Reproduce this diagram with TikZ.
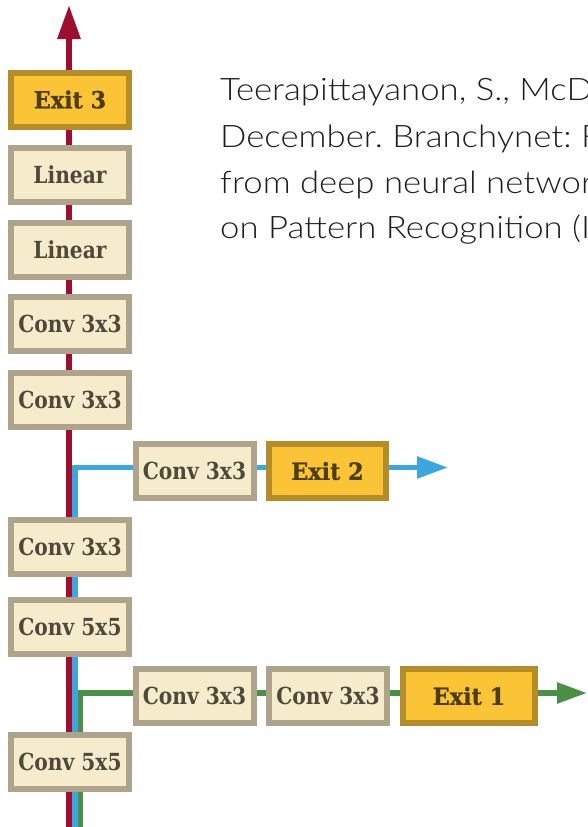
\documentclass[tikz,border=0pt]{standalone}
\usepackage{fontspec}
\usetikzlibrary{arrows.meta,backgrounds}

\newfontfamily\boxfont{DejaVu Serif}[UprightFont=* Bold, FakeStretch=0.86]
\newfontfamily\exitfont{DejaVu Serif}[UprightFont=* Bold, FakeStretch=0.95, FakeBold=1]
\newfontfamily\citefont{Lato}[UprightFont=* Light, FakeStretch=1.12]

\definecolor{trunkred}{HTML}{9C0F2E}
\definecolor{branchblue}{HTML}{3BA7DE}
\definecolor{branchgreen}{HTML}{4A8F45}
\definecolor{layerfill}{HTML}{F6EBCB}
\definecolor{layerline}{HTML}{ADA48B}
\definecolor{layertext}{HTML}{4D4A3C}
\definecolor{exitfill}{HTML}{FBC436}
\definecolor{exitline}{HTML}{B58C2A}
\definecolor{exittext}{HTML}{4E3D10}
\definecolor{citegray}{HTML}{1E1E1E}

\tikzset{
  layer/.style={draw=layerline, fill=layerfill, line width=6pt,
    minimum width=118pt, minimum height=54pt, inner sep=0pt,
    font=\boxfont\fontsize{23.5}{23.5}\selectfont, text=layertext},
  exitbox/.style={layer, draw=exitline, fill=exitfill, text=exittext,
    font=\exitfont\fontsize{23.5}{23.5}\selectfont},
  trunk/.style={draw=trunkred, line width=6pt},
  bluepath/.style={draw=branchblue, line width=5.5pt},
  greenpath/.style={draw=branchgreen, line width=5.5pt},
  citeline/.style={anchor=base west, inner sep=0pt, text=citegray,
    font=\citefont\fontsize{31}{31}\selectfont},
}

\begin{document}
\frenchspacing
\begin{tikzpicture}[x=1pt, y=-1pt]
\useasboundingbox (0,0) rectangle (588,827);
\clip (0,0) rectangle (588,827);

% main trunk
\node[exitbox] (exit3) at (70,99.5) {Exit 3};
\node[layer] (lin1) at (70,175) {Linear};
\node[layer] (lin2) at (70,249.5) {Linear};
\node[layer] (conv4) at (70,324) {Conv 3x3};
\node[layer] (conv3) at (70,399.5) {Conv 3x3};
\node[layer] (conv2) at (70,546.5) {Conv 3x3};
\node[layer] (conv1b) at (70,627) {Conv 5x5};
\node[layer] (conv1a) at (70,761.5) {Conv 5x5};

% branch 2
\node[layer] (b2conv) at (194.5,471) {Conv 3x3};
\node[exitbox, minimum width=117pt] (exit2) at (327.5,471) {Exit 2};

% branch 1
\node[layer] (b1conva) at (194.5,696) {Conv 3x3};
\node[layer] (b1convb) at (328,696) {Conv 3x3};
\node[exitbox, minimum width=132pt] (exit1) at (469,696) {Exit 1};

\coordinate (rbot) at (69,830);
\coordinate (rtop) at (69,5);
\coordinate (bbot) at (74.75,830);
\coordinate (gbot) at (80.25,830);
\coordinate (btip) at (448,467.5);
\coordinate (gtip) at (587,693);

\begin{scope}[on background layer]
  \draw[trunk, -{Triangle[length=34pt,width=22pt]}] (rbot) -- (rtop);
  \draw[bluepath] (bbot) |- ([yshift=3.5pt]b2conv.west);
  \draw[bluepath] ([yshift=3.5pt]b2conv.east) -- ([yshift=3.5pt]exit2.west);
  \draw[bluepath, -{Triangle[length=31pt,width=21pt]}] ([yshift=3.5pt]exit2.east) -- (btip);
  \draw[greenpath] (gbot) |- ([yshift=3pt]b1conva.west);
  \draw[greenpath] ([yshift=3pt]b1conva.east) -- ([yshift=3pt]b1convb.west);
  \draw[greenpath] ([yshift=3pt]b1convb.east) -- ([yshift=3pt]exit1.west);
  \draw[greenpath, -{Triangle[length=30pt,width=20pt]}] ([yshift=3pt]exit1.east) -- (gtip);
\end{scope}

% reference text, running past the right edge
\node[citeline] (cite1) at (220,100) {Teerapittayanon, S., McD};
\node[citeline] (cite2) at (220,147) {December. Branchynet: F};
\node[citeline] (cite3) at (220,193) {from deep neural networ};
\node[citeline] (cite4) at (220,238) {on Pattern Recognition (I};
\end{tikzpicture}
\end{document}
